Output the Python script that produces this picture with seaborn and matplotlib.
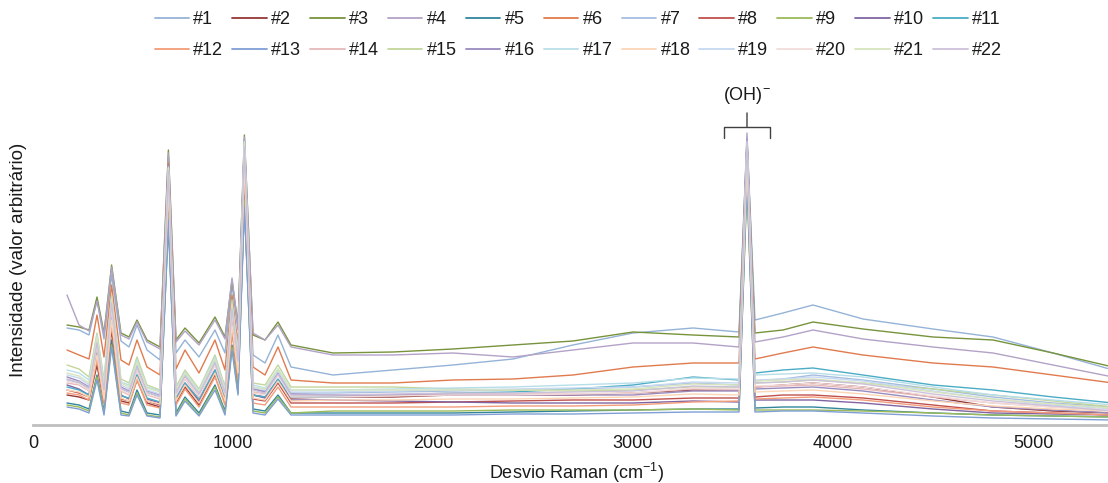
import pandas as pd
import seaborn as sns
import matplotlib
matplotlib.use("Agg")
import matplotlib.pyplot as plt

# Raman shift anchors (cm-1) shared by all spectra
X = [170, 230, 280, 320, 355, 393, 440, 480, 520, 570, 635, 677, 715, 760, 830,
     910, 960, 995, 1025, 1057, 1100, 1160, 1225, 1290, 1500, 1800, 2100, 2400,
     2700, 3000, 3300, 3530, 3570, 3610, 3750, 3900, 4150, 4500, 4800, 5100, 5400]

# intensity (arbitrary units), one list per sample
s1 = [97, 95, 90, 125, 86, 150, 84, 78, 100, 75, 65, 268, 72, 85, 68, 95, 72, 140, 95, 284, 70, 62, 90, 58, 50, 55, 60, 66, 80, 92, 97, 93, 288, 105, 112, 120, 106, 96, 88, 72, 55]
s2 = [30, 28, 25, 60, 22, 95, 24, 22, 45, 22, 18, 230, 22, 38, 20, 50, 22, 95, 45, 250, 30, 28, 45, 27, 28, 28, 30, 30, 30, 32, 35, 35, 270, 38, 40, 42, 38, 28, 18, 14, 12]
s3 = [100, 98, 95, 128, 92, 160, 92, 88, 105, 85, 78, 275, 85, 97, 82, 108, 88, 145, 100, 290, 90, 85, 103, 80, 72, 73, 76, 80, 84, 93, 90, 88, 285, 92, 95, 103, 96, 88, 85, 72, 58]
s4 = [130, 100, 94, 124, 90, 158, 90, 86, 103, 83, 76, 272, 83, 94, 80, 105, 86, 147, 98, 288, 92, 85, 100, 78, 70, 70, 72, 68, 75, 82, 82, 78, 292, 83, 88, 95, 86, 78, 72, 60, 48]
s5 = [22, 20, 16, 50, 14, 85, 14, 12, 35, 12, 10, 200, 12, 28, 12, 40, 14, 80, 35, 220, 16, 14, 30, 12, 12, 12, 12, 13, 14, 15, 16, 16, 250, 17, 18, 18, 15, 12, 10, 9, 8]
s6 = [75, 70, 66, 110, 68, 140, 65, 60, 85, 58, 50, 262, 56, 75, 52, 85, 55, 130, 80, 278, 58, 50, 78, 45, 42, 42, 45, 46, 50, 58, 62, 62, 282, 66, 72, 78, 70, 62, 58, 50, 42]
s7 = [45, 42, 36, 80, 34, 120, 36, 33, 58, 32, 28, 250, 30, 48, 30, 62, 32, 115, 65, 270, 36, 34, 55, 32, 32, 33, 34, 35, 36, 38, 42, 40, 280, 44, 46, 50, 45, 36, 28, 22, 18]
s8 = [35, 32, 28, 70, 25, 105, 26, 24, 48, 24, 20, 240, 24, 40, 22, 52, 24, 100, 50, 262, 26, 24, 42, 22, 22, 22, 23, 24, 25, 25, 27, 27, 265, 28, 30, 30, 27, 20, 14, 12, 10]
s9 = [20, 18, 14, 48, 12, 80, 12, 10, 32, 10, 8, 210, 10, 26, 10, 38, 12, 78, 32, 225, 14, 12, 28, 12, 14, 14, 14, 15, 15, 15, 16, 15, 240, 15, 15, 15, 14, 12, 10, 9, 8]
s10 = [40, 36, 30, 75, 28, 110, 30, 26, 50, 26, 22, 245, 26, 42, 24, 55, 26, 105, 55, 265, 30, 27, 45, 25, 25, 24, 23, 22, 22, 22, 24, 23, 268, 25, 25, 25, 22, 16, 12, 11, 10]
s11 = [38, 35, 30, 72, 28, 108, 29, 27, 50, 27, 23, 238, 27, 42, 26, 55, 27, 102, 52, 258, 30, 28, 46, 28, 28, 30, 32, 33, 36, 40, 48, 45, 275, 52, 55, 57, 50, 40, 35, 28, 22]
s12 = [32, 30, 25, 65, 22, 100, 22, 20, 45, 20, 17, 235, 20, 36, 18, 48, 20, 95, 45, 255, 22, 20, 38, 18, 18, 18, 18, 19, 19, 20, 23, 24, 262, 26, 27, 28, 25, 18, 14, 12, 10]
s13 = [18, 16, 12, 45, 10, 78, 10, 9, 30, 9, 7, 205, 9, 24, 9, 35, 10, 75, 30, 218, 12, 10, 26, 10, 10, 10, 10, 11, 11, 12, 13, 13, 245, 13, 14, 14, 12, 9, 7, 6, 5]
s14 = [42, 40, 34, 78, 32, 115, 34, 30, 55, 30, 26, 248, 30, 46, 28, 60, 30, 110, 60, 268, 33, 31, 50, 30, 30, 30, 31, 31, 31, 32, 36, 35, 272, 38, 39, 40, 36, 28, 22, 18, 15]
s15 = [60, 56, 48, 92, 45, 130, 46, 42, 68, 40, 35, 255, 38, 55, 36, 70, 38, 125, 70, 280, 42, 40, 60, 38, 38, 38, 36, 35, 34, 35, 38, 38, 278, 42, 43, 45, 42, 36, 30, 24, 18]
s16 = [48, 44, 38, 85, 36, 125, 38, 34, 60, 34, 30, 260, 33, 50, 32, 64, 33, 120, 68, 285, 36, 33, 52, 31, 30, 30, 30, 30, 30, 30, 34, 34, 285, 36, 37, 38, 34, 25, 18, 15, 12]
s17 = [55, 52, 45, 90, 42, 128, 43, 40, 65, 38, 34, 258, 36, 53, 35, 68, 36, 122, 72, 282, 40, 37, 56, 35, 35, 36, 37, 38, 40, 42, 47, 46, 280, 50, 51, 52, 48, 38, 30, 25, 20]
s18 = [35, 33, 28, 70, 26, 105, 27, 24, 48, 24, 21, 240, 24, 40, 22, 52, 24, 100, 52, 262, 27, 25, 44, 24, 25, 25, 26, 26, 27, 28, 31, 30, 266, 33, 34, 35, 31, 24, 19, 16, 14]
s19 = [50, 47, 40, 86, 38, 125, 40, 36, 62, 35, 31, 256, 34, 51, 32, 65, 34, 118, 66, 284, 38, 35, 54, 33, 33, 34, 35, 36, 37, 38, 43, 42, 283, 45, 46, 48, 44, 34, 26, 20, 16]
s20 = [44, 41, 35, 80, 33, 118, 35, 31, 56, 31, 27, 250, 30, 47, 29, 60, 31, 112, 62, 272, 32, 30, 50, 28, 28, 29, 30, 30, 31, 32, 37, 36, 274, 39, 40, 42, 38, 29, 22, 18, 15]
s21 = [52, 49, 42, 88, 40, 126, 42, 38, 63, 37, 33, 257, 35, 52, 34, 66, 35, 120, 68, 283, 38, 36, 56, 35, 35, 35, 35, 35, 35, 36, 41, 40, 281, 44, 45, 46, 42, 33, 26, 21, 17]
s22 = [46, 43, 37, 82, 35, 122, 37, 33, 58, 33, 29, 254, 32, 49, 31, 62, 32, 116, 64, 278, 35, 32, 51, 30, 30, 31, 32, 32, 33, 34, 39, 38, 284, 42, 43, 45, 41, 31, 24, 19, 14]

labels = ["#%d" % i for i in range(1, 23)]
cores = ["#95B3D7", "#953735", "#77933C", "#B3A2C7", "#31859C", "#E07B4F",
         "#A6BDE0", "#C0504D", "#9BBB59", "#8064A2", "#4BACC6", "#F39C7A",
         "#7F9FD4", "#E6B9B8", "#C3D69B", "#9A8BBF", "#B7DEE8", "#FCD5B5",
         "#C6D9F1", "#F2DCDB", "#D7E4BD", "#CCC1DA"]

spectra = [s1, s2, s3, s4, s5, s6, s7, s8, s9, s10, s11,
           s12, s13, s14, s15, s16, s17, s18, s19, s20, s21, s22]

rows = []
for lab, vals in zip(labels, spectra):
    for x, y in zip(X, vals):
        rows.append((x, y, lab))
df = pd.DataFrame(rows, columns=["desvio", "intensidade", "amostra"])

sns.set_theme(style="white")
plt.rcParams["font.family"] = ["Liberation Sans", "DejaVu Sans"]
plt.rcParams["mathtext.default"] = "regular"
txt = "#1a1a1a"

fig = plt.figure(figsize=(11.08, 4.83), dpi=100)
ax = fig.add_axes([33 / 1108, 58 / 483, 1075 / 1108, 330 / 483])
sns.lineplot(data=df, x="desvio", y="intensidade", hue="amostra",
             hue_order=labels, palette=cores, estimator=None, sort=False,
             linewidth=1.0, ax=ax)

ax.set_xlim(0, 5375)
ax.set_ylim(0, 330)
ax.set_xticks(range(0, 5001, 1000))
ax.set_yticks([])
ax.tick_params(axis="x", length=0, pad=7, labelsize=13, labelcolor=txt)
for s in ["top", "right", "left"]:
    ax.spines[s].set_visible(False)
ax.spines["bottom"].set_color("#BFBFBF")
ax.spines["bottom"].set_linewidth(2)

ax.set_xlabel("Desvio Raman (cm$^{-1}$)", fontsize=13, color=txt)
ax.set_ylabel("Intensidade (valor arbitrário)", fontsize=13.5, color=txt)
ax.xaxis.set_label_coords(0.506, -0.108)
ax.yaxis.set_label_coords(-0.006, 0.5)

# (OH)- band marker over the hydroxyl peak
oh = X[32]
topo = max(s[32] for s in spectra)
ax.annotate("(OH)$^{-}$", xy=(oh, topo + 6), xytext=(oh, 330),
            ha="center", va="center", fontsize=13, color=txt,
            annotation_clip=False,
            arrowprops=dict(arrowstyle="-[, widthB=1.25, lengthB=0.6",
                            lw=1, color="#404040", shrinkA=3, shrinkB=0))

# legend filled row by row: 11 entries per row
handles, lbls = ax.get_legend_handles_labels()
ax.get_legend().remove()
ordem = [i for pair in zip(range(0, 11), range(11, 22)) for i in pair]
leg = fig.legend([handles[i] for i in ordem], [lbls[i] for i in ordem],
                 loc="center", bbox_to_anchor=(0.522, 1 - 35 / 483),
                 ncol=11, frameon=False, fontsize=13, handlelength=1.9,
                 handletextpad=0.25, columnspacing=0.5, labelspacing=0.78,
                 borderpad=0)
for t in leg.get_texts():
    t.set_color(txt)
for h in leg.get_lines():
    h.set_linewidth(1.3)

fig.savefig("out.png", dpi=100)
